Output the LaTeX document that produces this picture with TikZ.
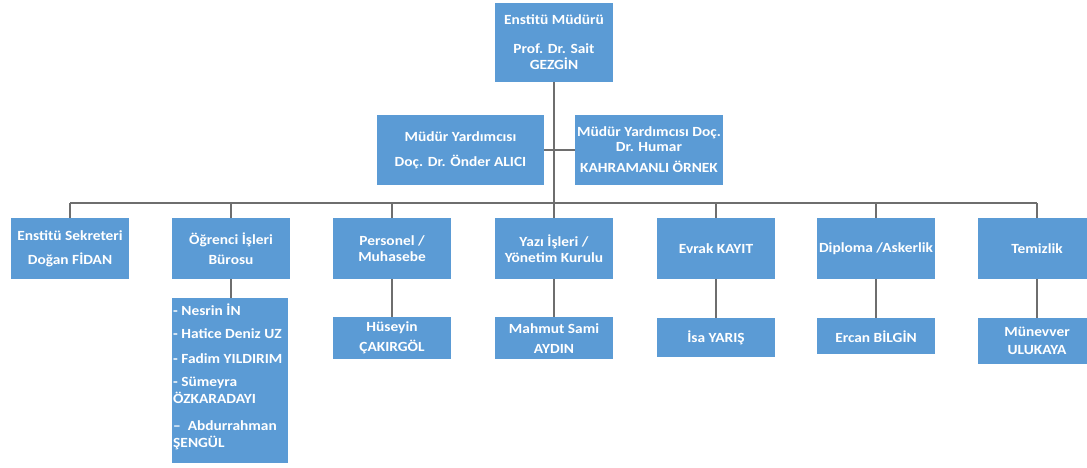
\documentclass[tikz,border=0pt]{standalone}
\usepackage{fontspec}
\newfontfamily\bx{Carlito}[FakeStretch=1.1]
\definecolor{boxblue}{HTML}{5B9BD5}
\definecolor{linegray}{HTML}{6E6E6E}
\begin{document}
\begin{tikzpicture}[x=1pt,y=-1pt,
  box/.style={fill=boxblue,draw=none,text=white,inner sep=1pt,align=center,
    font=\bx\bfseries\fontsize{14}{16}\selectfont},
  conn/.style={draw=linegray,line width=1.2pt}]
\clip (0,0) rectangle (1087,467);
\fill[white] (0,0) rectangle (1087,467);
% top
\node[box,minimum width=118,minimum height=79] (top) at (554,42.5)
  {Enstitü Müdürü\\[13pt]Prof. Dr. Sait\\GEZGİN};
\node[box,minimum width=167,minimum height=70] (ml) at (460.5,150)
  {Müdür Yardımcısı\\[9pt]Doç. Dr. Önder ALICI};
\node[box,minimum width=148,minimum height=70] (mr) at (649,150)
  {Müdür Yardımcısı Doç.\\[-1pt]Dr. Humar\\[5pt]KAHRAMANLI ÖRNEK};
% level 2
\node[box,minimum width=118,minimum height=61] (b1) at (70,248.5)
  {Enstitü Sekreteri\\[8pt]Doğan FİDAN};
\node[box,minimum width=118,minimum height=61] (b2) at (231,248.5)
  {Öğrenci İşleri\\[4pt]Bürosu};
\node[box,minimum width=118,minimum height=61] (b3) at (392,248.5)
  {Personel /\\Muhasebe};
\node[box,minimum width=118,minimum height=61] (b4) at (554,248.5)
  {Yazı İşleri /\\Yönetim Kurulu};
\node[box,minimum width=118,minimum height=61] (b5) at (716,248.5)
  {Evrak KAYIT};
\node[box,minimum width=118,minimum height=61] (b6) at (876,248.5)
  {Diploma /Askerlik};
\node[box,minimum width=118,minimum height=61] (b7) at (1037,248.5)
  {Temizlik};
% level 3
\node[box,minimum width=116,minimum height=165,anchor=north west] (list) at (172,298) {};
\node[box,align=left,anchor=north west,inner sep=0pt,font=\bx\bfseries\fontsize{14}{17}\selectfont] (listtxt) at (173,304)
  {- Nesrin İN\\[6pt]- Hatice Deniz UZ\\[8pt]- Fadim YILDIRIM\\[6pt]- Sümeyra\\ÖZKARADAYI\\[10pt]– \ Abdurrahman\\ŞENGÜL};
\node[box,minimum width=118,minimum height=42,anchor=north] (c3) at (392,317)
  {Hüseyin\\[4pt]ÇAKIRGÖL};
\node[box,minimum width=118,minimum height=42,anchor=north] (c4) at (554,317)
  {Mahmut Sami\\[4pt]AYDIN};
\node[box,minimum width=118,minimum height=39,anchor=north] (c5) at (716,318)
  {İsa YARIŞ};
\node[box,minimum width=118,minimum height=36,anchor=north] (c6) at (876,318)
  {Ercan BİLGİN};
\node[box,minimum width=118,minimum height=46,anchor=north] (c7) at (1037,318)
  {Münevver\\[2pt]ULUKAYA};
% connectors
\coordinate (bus) at (554,203);
\draw[conn] (top.south) -- (bus);
\draw[conn] (ml.east) -- (mr.west);
\draw[conn] (b1.north |- bus) -- (b7.north |- bus);
\foreach \b in {b1,b2,b3,b4,b5,b6,b7}{\draw[conn] (\b.north |- bus) -- (\b.north);}
\draw[conn] (b2.south) -- (b2.south |- list.north);
\draw[conn] (b3.south) -- (c3.north);
\draw[conn] (b4.south) -- (c4.north);
\draw[conn] (b5.south) -- (c5.north);
\draw[conn] (b6.south) -- (c6.north);
\draw[conn] (b7.south) -- (c7.north);
\end{tikzpicture}
\end{document}
